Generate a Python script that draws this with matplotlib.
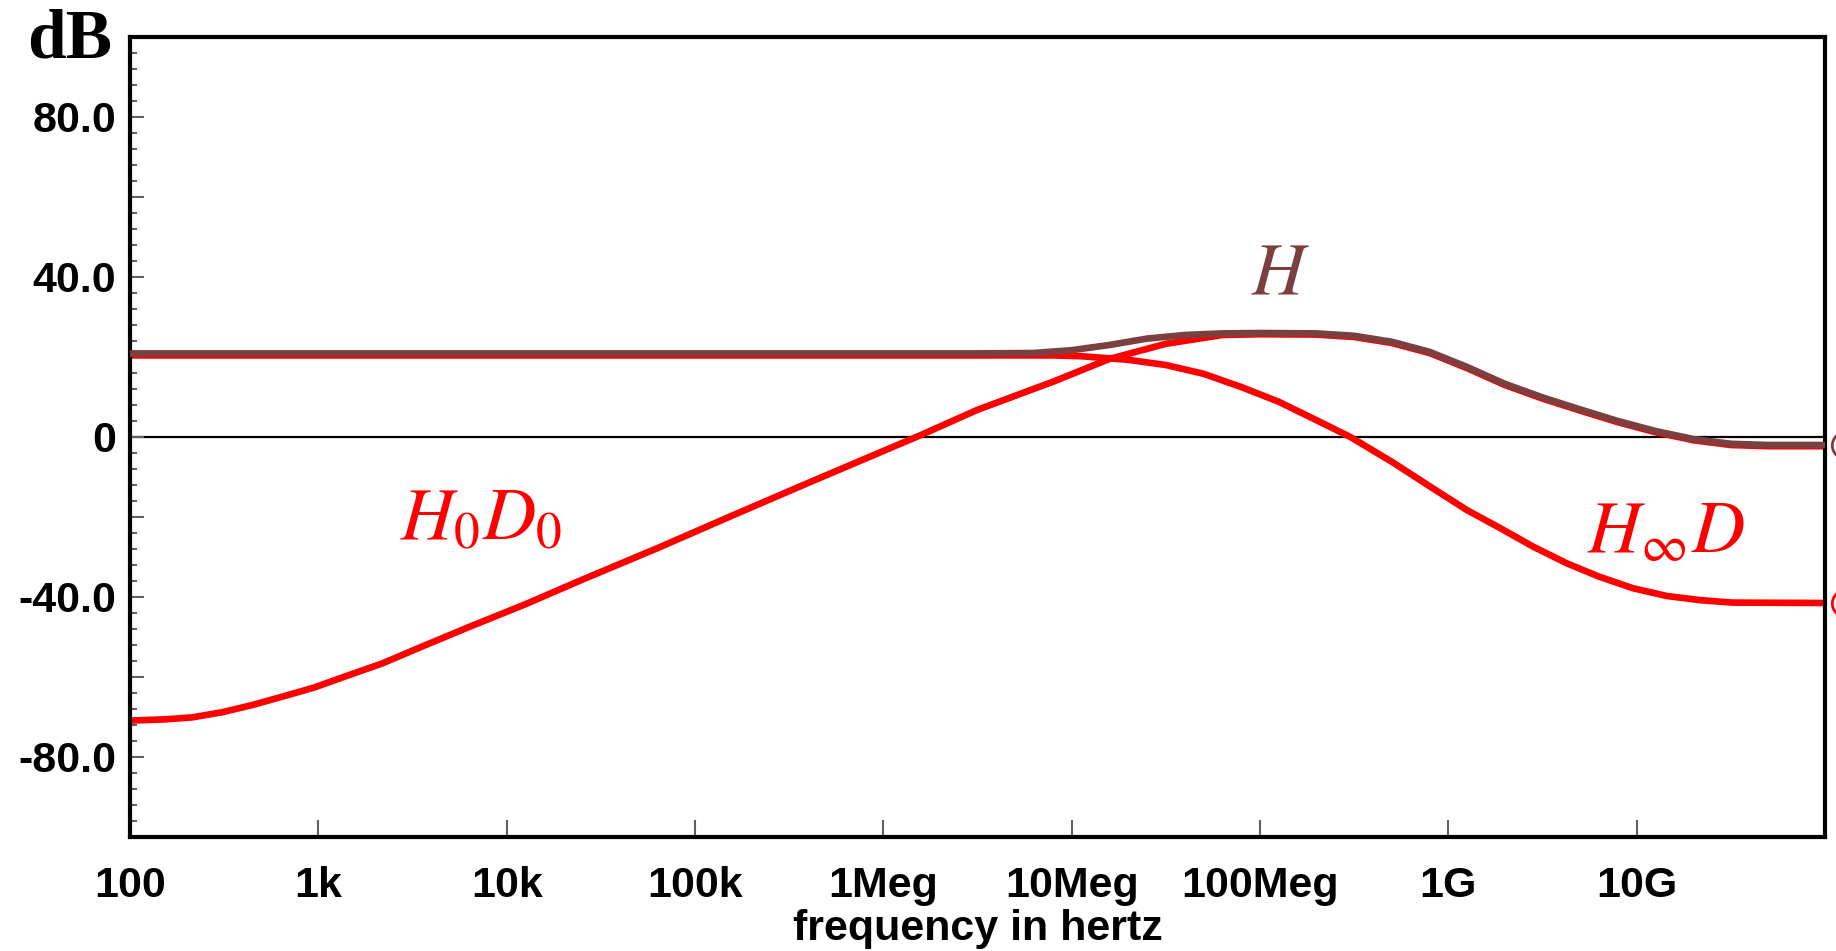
import numpy as np
import matplotlib
matplotlib.use("Agg")
import matplotlib.pyplot as plt
from matplotlib.ticker import MultipleLocator, FixedLocator, FuncFormatter, LogLocator, NullFormatter
from matplotlib.transforms import ScaledTranslation

# data (log10 of frequency in Hz, gain in dB)
h_logf = [2.0, 6.5, 6.8, 7.0, 7.2, 7.4, 7.6, 7.8, 8.0, 8.3, 8.5, 8.7, 8.9, 9.1, 9.3,
          9.5, 9.7, 9.9, 10.1, 10.3, 10.5, 10.7, 11.0]
h_db = [20.9, 20.9, 21.0, 21.7, 23.0, 24.6, 25.5, 25.9, 26.0, 25.9, 25.3, 23.8, 21.3,
        17.5, 13.3, 9.9, 6.9, 4.0, 1.5, -0.5, -1.7, -2.0, -2.0]

h0d0_logf = [2.0, 2.18, 2.33, 2.49, 2.65, 2.81, 2.98, 3.14, 3.34, 3.55, 3.8, 4.1, 4.4,
             4.8, 5.2, 5.6, 6.0, 6.2, 6.5, 6.9, 7.2, 7.5, 7.8, 8.0, 8.3, 8.5, 8.7,
             8.9, 9.1, 9.3, 9.5, 9.7, 9.9, 10.1, 10.3, 10.5, 10.7, 11.0]
h0d0_db = [-70.9, -70.6, -70.1, -68.8, -67.0, -64.9, -62.6, -59.9, -56.6, -52.4, -47.5,
           -41.8, -35.7, -27.8, -19.6, -11.5, -3.5, 0.5, 6.8, 13.8, 19.5, 23.3, 25.5,
           25.7, 25.6, 25.0, 23.5, 21.0, 17.2, 13.0, 9.6, 6.6, 3.7, 1.2, -0.8, -2.0,
           -2.3, -2.3]

hinf_logf = [2.0, 6.9, 7.05, 7.3, 7.5, 7.7, 7.9, 8.1, 8.3, 8.48, 8.7, 8.93, 9.1, 9.28,
             9.45, 9.63, 9.8, 9.98, 10.16, 10.34, 10.51, 11.0]
hinf_db = [20.4, 20.4, 20.2, 19.3, 18.0, 15.8, 12.5, 8.8, 4.2, 0.0, -6.2, -13.2, -18.3,
           -22.9, -27.4, -31.6, -34.9, -37.8, -39.75, -40.8, -41.4, -41.5]

x_tick_labels = ["100", "1k", "10k", "100k", "1Meg", "10Meg", "100Meg", "1G", "10G"]

RED = "#ff0000"
BROWN = "#7b3f3f"

plt.rcParams["mathtext.fontset"] = "stix"

fig = plt.figure(figsize=(18.36, 9.51), dpi=100)
ax = fig.add_axes([130 / 1836, 114 / 951, 1695 / 1836, 800 / 951])

f_h = 10 ** np.array(h_logf)
f_h0 = 10 ** np.array(h0d0_logf)
f_hi = 10 ** np.array(hinf_logf)

ax.axhline(0, color="black", lw=1.6, zorder=1)
ax.plot(f_hi, hinf_db, color=RED, lw=4.8, zorder=2, solid_capstyle="butt", solid_joinstyle="round")
ax.plot(f_h0, h0d0_db, color=RED, lw=4.8, zorder=2, solid_capstyle="butt", solid_joinstyle="round")
ax.plot(f_h, h_db, color=BROWN, lw=4.8, zorder=3, solid_capstyle="butt", solid_joinstyle="round")

# the little end markers that peek out past the right edge
off = ScaledTranslation(20 / 100, 0, fig.dpi_scale_trans)
ax.plot(f_h[-1:], h_db[-1:], "o", ms=19, mfc="none", mec=BROWN, mew=2,
        clip_on=False, transform=ax.transData + off)
ax.plot(f_hi[-1:], hinf_db[-1:], "o", ms=19, mfc="none", mec=RED, mew=2,
        clip_on=False, transform=ax.transData + off)

ax.set_xscale("log")
ax.set_xlim(1e2, 1e11)
ax.set_ylim(-100, 100)

# y axis ticks
ax.yaxis.set_major_locator(MultipleLocator(20))
ax.yaxis.set_minor_locator(MultipleLocator(4))
def ylab(v, pos):
    if abs(v % 40) > 1e-6:
        return ""
    if abs(v) < 1e-6:
        return "0"
    return f"{v:.1f}"
ax.yaxis.set_major_formatter(FuncFormatter(ylab))

# x axis ticks
ax.xaxis.set_major_locator(FixedLocator([10.0 ** k for k in range(2, 12)]))
ax.xaxis.set_minor_locator(LogLocator(base=10, subs=np.arange(2, 10)))
ax.xaxis.set_minor_formatter(NullFormatter())
def xlab(v, pos):
    k = int(round(np.log10(v))) - 2
    if 0 <= k < len(x_tick_labels):
        return x_tick_labels[k]
    return ""
ax.xaxis.set_major_formatter(FuncFormatter(xlab))

ax.tick_params(axis="both", which="both", direction="in", colors="#606060",
               width=1.5, top=False, right=False)
ax.tick_params(axis="y", which="major", length=10, pad=10)
ax.tick_params(axis="y", which="minor", length=5)
ax.tick_params(axis="x", which="major", length=12, pad=21)
ax.tick_params(axis="x", which="minor", length=5)
for lab in ax.get_xticklabels() + ax.get_yticklabels():
    lab.set_color("black")
    lab.set_fontfamily("Liberation Sans")
    lab.set_fontweight("bold")
    lab.set_fontsize(31)

for sp in ax.spines.values():
    sp.set_linewidth(3)
    sp.set_color("black")

ax.set_xlabel("frequency in hertz", fontsize=31, fontweight="bold",
              fontfamily="Liberation Sans", labelpad=2)

fig.text(27 / 1836, 1 - 58 / 951, "dB", fontsize=50, fontweight="bold",
         fontfamily="Liberation Serif", ha="left", va="baseline")

# curve labels
ax.text(1.28e8, 36, r"$H$", color=BROWN, fontsize=53, ha="center", va="baseline")
ax.text(7.3e3, -25.6, r"$H_0D_0$", color=RED, fontsize=53, ha="center", va="baseline")
ax.text(1.43e10, -28.75, r"$H_\infty D$", color=RED, fontsize=53, ha="center", va="baseline")

fig.savefig("out.png", dpi=100)
